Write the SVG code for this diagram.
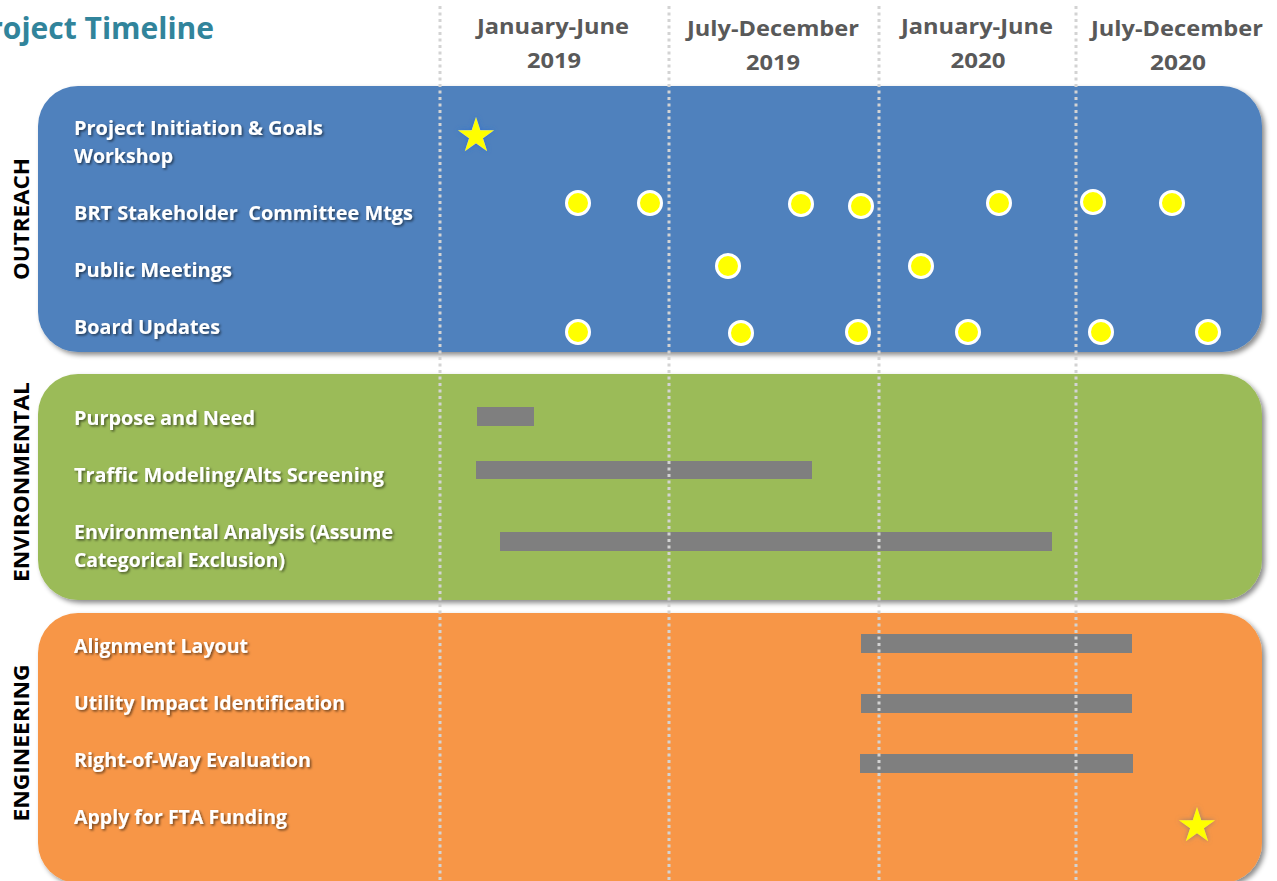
<svg xmlns="http://www.w3.org/2000/svg" xmlns:xlink="http://www.w3.org/1999/xlink" width="1277" height="881" viewBox="0 0 1277 881">
<defs>
<style>
.title{font-family:"Open Sans","Liberation Sans",sans-serif;font-weight:700;font-size:30px;fill:#31849B}
.hdr{font-family:"Open Sans","Liberation Sans",sans-serif;font-weight:700;font-size:22px;fill:#595959;text-anchor:middle}
.lbl{font-family:"Open Sans","Liberation Sans",sans-serif;font-weight:700;font-size:19px;fill:#ffffff}
.side{font-family:"Open Sans","Liberation Sans",sans-serif;font-weight:700;font-size:21px;fill:#000000;text-anchor:middle}
.grid{stroke:#d3d3d3;stroke-width:3;stroke-dasharray:3 3.5;fill:none}
.bar{fill:#7f7f7f}
.dot{fill:#ffff00;stroke:#ffffff;stroke-width:3}
.star{fill:#ffff00}
</style>
<filter id="pshadow" x="-5%" y="-10%" width="110%" height="125%">
<feDropShadow dx="3" dy="3" stdDeviation="2.5" flood-color="#000" flood-opacity="0.45"/>
</filter>
<filter id="tshadow" x="-5%" y="-30%" width="110%" height="160%">
<feDropShadow dx="1.5" dy="1.5" stdDeviation="1" flood-color="#000" flood-opacity="0.55"/>
</filter>
<filter id="glowBlue" x="-50%" y="-50%" width="200%" height="200%">
<feGaussianBlur in="SourceAlpha" stdDeviation="2.5" result="b"/>
<feFlood flood-color="#2f6fd0" flood-opacity="0.9"/>
<feComposite in2="b" operator="in" result="g"/>
<feMerge><feMergeNode in="g"/><feMergeNode in="SourceGraphic"/></feMerge>
</filter>
<filter id="glowGray" x="-50%" y="-50%" width="200%" height="200%">
<feGaussianBlur in="SourceAlpha" stdDeviation="2.5" result="b"/>
<feFlood flood-color="#8a7a70" flood-opacity="0.9"/>
<feComposite in2="b" operator="in" result="g"/>
<feMerge><feMergeNode in="g"/><feMergeNode in="SourceGraphic"/></feMerge>
</filter>
<polygon id="starShape" points="0,-19 4.27,-5.87 18.07,-5.87 6.9,2.24 11.17,15.37 0,7.26 -11.17,15.37 -6.9,2.24 -18.07,-5.87 -4.27,-5.87"/>
</defs>
<rect x="0" y="0" width="1277" height="881" fill="#ffffff"/>

<text class="title" x="214" y="39" text-anchor="end">Project Timeline</text>

<g id="headers">
<text class="hdr" x="553" y="34" textLength="152" lengthAdjust="spacingAndGlyphs">January-June</text>
<text class="hdr" x="554" y="68" textLength="54" lengthAdjust="spacingAndGlyphs">2019</text>
<text class="hdr" x="773" y="36" textLength="172" lengthAdjust="spacingAndGlyphs">July-December</text>
<text class="hdr" x="773" y="70" textLength="54" lengthAdjust="spacingAndGlyphs">2019</text>
<text class="hdr" x="977" y="34" textLength="152" lengthAdjust="spacingAndGlyphs">January-June</text>
<text class="hdr" x="978" y="68" textLength="55" lengthAdjust="spacingAndGlyphs">2020</text>
<text class="hdr" x="1177" y="36" textLength="172" lengthAdjust="spacingAndGlyphs">July-December</text>
<text class="hdr" x="1178" y="70" textLength="56" lengthAdjust="spacingAndGlyphs">2020</text>
</g>

<g id="outreach">
<rect x="38" y="86" width="1224" height="266" rx="40" ry="40" fill="#4F81BD" filter="url(#pshadow)"/>
<text class="side" transform="translate(29,219) rotate(-90)" textLength="122" lengthAdjust="spacingAndGlyphs">OUTREACH</text>
<g filter="url(#tshadow)">
<text class="lbl" x="74" y="135" textLength="249" lengthAdjust="spacingAndGlyphs">Project Initiation &amp; Goals</text>
<text class="lbl" x="74" y="163" textLength="99" lengthAdjust="spacingAndGlyphs">Workshop</text>
<text class="lbl" x="74" y="220" textLength="339" lengthAdjust="spacingAndGlyphs" xml:space="preserve">BRT Stakeholder  Committee Mtgs</text>
<text class="lbl" x="74" y="277" textLength="158" lengthAdjust="spacingAndGlyphs">Public Meetings</text>
<text class="lbl" x="74" y="334" textLength="146" lengthAdjust="spacingAndGlyphs">Board Updates</text>
</g>
</g>

<g id="environmental">
<rect x="38" y="374" width="1224" height="226" rx="40" ry="40" fill="#9BBB59" filter="url(#pshadow)"/>
<text class="side" transform="translate(29,482) rotate(-90)" textLength="200" lengthAdjust="spacingAndGlyphs">ENVIRONMENTAL</text>
<g filter="url(#tshadow)">
<text class="lbl" x="74" y="425" textLength="181" lengthAdjust="spacingAndGlyphs">Purpose and Need</text>
<text class="lbl" x="74" y="482" textLength="310" lengthAdjust="spacingAndGlyphs">Traffic Modeling/Alts Screening</text>
<text class="lbl" x="74" y="539" textLength="319" lengthAdjust="spacingAndGlyphs">Environmental Analysis (Assume</text>
<text class="lbl" x="74" y="567" textLength="211" lengthAdjust="spacingAndGlyphs">Categorical Exclusion)</text>
</g>
</g>

<g id="engineering">
<rect x="38" y="613" width="1224" height="270" rx="40" ry="40" fill="#F79646" filter="url(#pshadow)"/>
<text class="side" transform="translate(29,743) rotate(-90)" textLength="157" lengthAdjust="spacingAndGlyphs">ENGINEERING</text>
<g filter="url(#tshadow)">
<text class="lbl" x="74" y="653" textLength="174" lengthAdjust="spacingAndGlyphs">Alignment Layout</text>
<text class="lbl" x="74" y="710" textLength="271" lengthAdjust="spacingAndGlyphs">Utility Impact Identification</text>
<text class="lbl" x="74" y="767" textLength="237" lengthAdjust="spacingAndGlyphs">Right-of-Way Evaluation</text>
<text class="lbl" x="74" y="824" textLength="213" lengthAdjust="spacingAndGlyphs">Apply for FTA Funding</text>
</g>
</g>

<g id="bars">
<rect class="bar" x="477" y="407" width="57" height="19"/>
<rect class="bar" x="476" y="461" width="336" height="18"/>
<rect class="bar" x="500" y="532" width="552" height="19"/>
<rect class="bar" x="861" y="634" width="271" height="19"/>
<rect class="bar" x="861" y="694" width="271" height="19"/>
<rect class="bar" x="860" y="754" width="273" height="19"/>
</g>

<g id="gridlines">
<line class="grid" x1="440" y1="6" x2="440" y2="881"/>
<line class="grid" x1="669" y1="6" x2="669" y2="881"/>
<line class="grid" x1="879" y1="6" x2="879" y2="881"/>
<line class="grid" x1="1076" y1="6" x2="1076" y2="881"/>
</g>

<g id="milestones">
<circle class="dot" cx="578" cy="203" r="11.5"/>
<circle class="dot" cx="650" cy="203" r="11.5"/>
<circle class="dot" cx="801" cy="204" r="11.5"/>
<circle class="dot" cx="861" cy="206" r="11.5"/>
<circle class="dot" cx="999" cy="203" r="11.5"/>
<circle class="dot" cx="1093" cy="202" r="11.5"/>
<circle class="dot" cx="1172" cy="203" r="11.5"/>
<circle class="dot" cx="728" cy="266" r="11.5"/>
<circle class="dot" cx="921" cy="266" r="11.5"/>
<circle class="dot" cx="578" cy="332" r="11.5"/>
<circle class="dot" cx="741" cy="333" r="11.5"/>
<circle class="dot" cx="858" cy="332" r="11.5"/>
<circle class="dot" cx="968" cy="332" r="11.5"/>
<circle class="dot" cx="1101" cy="332" r="11.5"/>
<circle class="dot" cx="1208" cy="332" r="11.5"/>
<use href="#starShape" xlink:href="#starShape" class="star" transform="translate(476,136)" filter="url(#glowBlue)"/>
<use href="#starShape" xlink:href="#starShape" class="star" transform="translate(1197,826)" filter="url(#glowGray)"/>
</g>
</svg>
